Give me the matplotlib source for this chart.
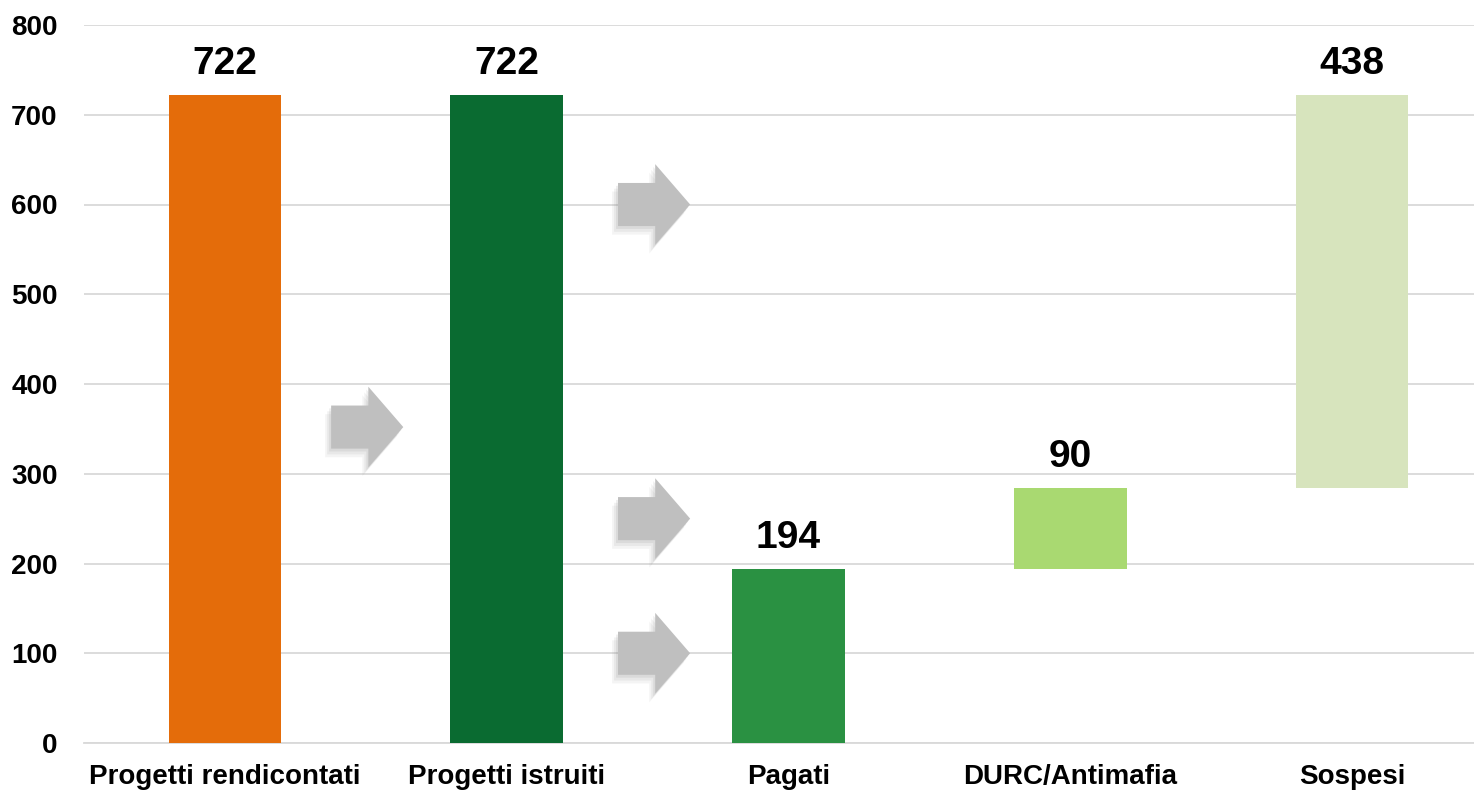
import matplotlib.pyplot as plt
from matplotlib.patches import Polygon
import numpy as np

plt.rcParams['font.family'] = ['Liberation Sans', 'DejaVu Sans']

categories = ['Progetti rendicontati', 'Progetti istruiti', 'Pagati', 'DURC/Antimafia', 'Sospesi']
values = [722, 722, 194, 90, 438]
bottoms = [0, 0, 0, 194, 194 + 90]
colors = ['#E46C0A', '#0A6B31', '#2A9142', '#A9D971', '#D7E4BD']

# decorative arrows: (x of tip, y of tip)
arrows = [(0.633, 352), (1.651, 600), (1.651, 250), (1.651, 100)]

fig = plt.figure(figsize=(14.74, 7.92), dpi=100)
ax = fig.add_axes([84 / 1474, 1 - 743 / 792, 1409 / 1474, (743 - 25) / 792])

x = np.arange(len(categories))
ax.bar(x, values, bottom=bottoms, width=0.4, color=colors, zorder=3)

for xi, v, b in zip(x, values, bottoms):
    ax.annotate(str(v), (xi, b + v), xytext=(0, 15), textcoords='offset points',
                ha='center', va='baseline', fontsize=28, fontweight='bold', zorder=5)

# arrow shape
aw = 0.256
hl = 0.124
bh = 24
hh = 45
for tx, ty in arrows:
    pts = [(tx - aw, ty - bh), (tx - aw, ty + bh), (tx - hl, ty + bh), (tx - hl, ty + hh),
           (tx, ty), (tx - hl, ty - hh), (tx - hl, ty - bh)]
    for k, a in [(3, 0.08), (2, 0.10), (1, 0.13)]:
        sh = [(px - 0.007 * k, py - 3.2 * k) for px, py in pts]
        ax.add_patch(Polygon(sh, closed=True, facecolor='#7F7F7F', edgecolor='none', alpha=a, zorder=3))
    ax.add_patch(Polygon(pts, closed=True, facecolor='#BFBFBF', edgecolor='none', zorder=4))

ax.set_xlim(-0.5, 4.5)
ax.set_ylim(0, 800)
ax.set_yticks(np.arange(0, 801, 100))
ax.set_xticks(x)
ax.set_xticklabels(categories, fontsize=20, fontweight='bold')
for lab in ax.get_yticklabels():
    lab.set_fontsize(20)
    lab.set_fontweight('bold')
ax.tick_params(axis='y', length=0, pad=19)
ax.tick_params(axis='x', length=0, pad=15)
ax.grid(axis='y', color='#D9D9D9', linewidth=1.3, zorder=0)
for s in ['top', 'right', 'left']:
    ax.spines[s].set_visible(False)
ax.spines['bottom'].set_color('#D9D9D9')
ax.spines['bottom'].set_linewidth(1.3)

fig.savefig('out.png', dpi=100)
